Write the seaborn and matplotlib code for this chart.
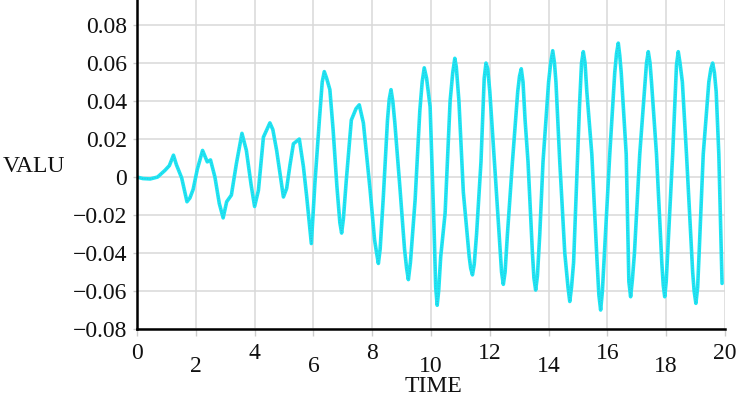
import numpy as np
import pandas as pd
import matplotlib
matplotlib.use("Agg")
import matplotlib.pyplot as plt
import seaborn as sns

# data
time = [0, 0.2, 0.45, 0.7, 0.95, 1.1, 1.24, 1.34, 1.52, 1.70, 1.80, 1.91, 2.05, 2.23, 2.39, 2.50,
        2.65, 2.80, 2.93, 3.05, 3.21, 3.38, 3.57, 3.72, 3.88, 4.00, 4.13, 4.30, 4.52, 4.62, 4.75,
        4.88, 4.98, 5.09, 5.20, 5.32, 5.52, 5.66, 5.77, 5.93, 6.05, 6.21, 6.30, 6.37, 6.45, 6.56,
        6.67, 6.80, 6.90, 6.96, 7.02, 7.12, 7.29, 7.45, 7.56, 7.70, 7.93, 8.08, 8.15, 8.21, 8.27,
        8.38, 8.52, 8.58, 8.64, 8.70, 8.77, 8.95, 9.10, 9.17, 9.23, 9.30, 9.46, 9.62, 9.70, 9.77,
        9.85, 9.97, 10.10, 10.16, 10.21, 10.26, 10.33, 10.48, 10.65, 10.74, 10.81, 10.86, 10.95,
        11.10, 11.30, 11.35, 11.41, 11.47, 11.55, 11.70, 11.81, 11.87, 11.93, 12.00, 12.20, 12.40,
        12.46, 12.52, 12.60, 12.77, 12.95, 13.01, 13.07, 13.13, 13.20, 13.30, 13.45, 13.50, 13.56,
        13.62, 13.70, 13.81, 14.00, 14.07, 14.14, 14.20, 14.25, 14.38, 14.55, 14.66, 14.72, 14.78,
        14.85, 15.05, 15.12, 15.18, 15.24, 15.30, 15.47, 15.65, 15.71, 15.77, 15.83, 15.90, 16.08,
        16.25, 16.31, 16.37, 16.42, 16.47, 16.64, 16.73, 16.79, 16.85, 16.92, 17.10, 17.28, 17.33,
        17.39, 17.45, 17.50, 17.67, 17.85, 17.90, 17.95, 18.00, 18.05, 18.22, 18.35, 18.41, 18.47,
        18.55, 18.69, 18.90, 18.95, 19.01, 19.07, 19.12, 19.26, 19.45, 19.52, 19.58, 19.64, 19.70,
        19.79, 19.90]
value = [0.0, -0.0008, -0.0010, 0.0, 0.0035, 0.0060, 0.0115, 0.0065, -0.0005, -0.0130, -0.0110,
         -0.0065, 0.0040, 0.0140, 0.0080, 0.0090, 0.0, -0.0140, -0.0215, -0.0130, -0.0095, 0.0070,
         0.0230, 0.0140, -0.0040, -0.0155, -0.0070, 0.0210, 0.0285, 0.0250, 0.0140, 0.0, -0.0105,
         -0.0060, 0.0060, 0.0175, 0.0200, 0.0055, -0.0100, -0.0350, -0.0035, 0.0315, 0.0500,
         0.0555, 0.0520, 0.0460, 0.0250, -0.0050, -0.0240, -0.0295, -0.0220, -0.0015, 0.0300,
         0.0360, 0.0380, 0.0285, -0.0070, -0.0330, -0.0400, -0.0455, -0.0380, -0.0100, 0.0300,
         0.0410, 0.0460, 0.0400, 0.0285, -0.0070, -0.0380, -0.0480, -0.0540, -0.0450, -0.0120,
         0.0350, 0.0500, 0.0575, 0.0520, 0.0370, -0.0250, -0.0580, -0.0675, -0.0600, -0.0420,
         -0.0190, 0.0400, 0.0550, 0.0625, 0.0580, 0.0400, -0.0080, -0.0420, -0.0480, -0.0515,
         -0.0460, -0.0300, 0.0080, 0.0520, 0.0600, 0.0570, 0.0450, -0.0020, -0.0500, -0.0565,
         -0.0500, -0.0300, 0.0080, 0.0450, 0.0530, 0.0570, 0.0500, 0.0300, 0.0080, -0.0400, -0.0530,
         -0.0595, -0.0520, -0.0300, 0.0080, 0.0500, 0.0600, 0.0665, 0.0600, 0.0500, 0.0080, -0.0400,
         -0.0580, -0.0655, -0.0580, -0.0450, 0.0370, 0.0600, 0.0660, 0.0600, 0.0450, 0.0120,
         -0.0450, -0.0620, -0.0700, -0.0600, -0.0400, 0.0120, 0.0550, 0.0650, 0.0705, 0.0640,
         0.0550, 0.0120, -0.0550, -0.0630, -0.0540, -0.0400, 0.0120, 0.0500, 0.0600, 0.0660,
         0.0600, 0.0500, 0.0120, -0.0450, -0.0570, -0.0630, -0.0550, -0.0400, 0.0120, 0.0590,
         0.0660, 0.0600, 0.0500, 0.0120, -0.0500, -0.0600, -0.0665, -0.0580, -0.0400, 0.0120,
         0.0500, 0.0570, 0.0600, 0.0550, 0.0450, 0.0120, -0.0560]

x_major = [0, 4, 8, 12, 16, 20]
x_minor = [2, 6, 10, 14, 18]
y_ticks = [-0.08, -0.06, -0.04, -0.02, 0, 0.02, 0.04, 0.06, 0.08]
y_labels = ["\u22120.08", "\u22120.06", "\u22120.04", "\u22120.02", "0", "0.02", "0.04", "0.06", "0.08"]

df = pd.DataFrame({"TIME": time, "VALU": value})

sns.set_theme(style="whitegrid")
plt.rcParams["font.family"] = ["Liberation Serif", "DejaVu Serif"]

fig = plt.figure(figsize=(7.54, 3.96), dpi=100)
ax = fig.add_axes([137 / 754, 67 / 396, 588 / 754, 329 / 396])

sns.lineplot(data=df, x="TIME", y="VALU", ax=ax, color="#1ee6f3", linewidth=2.6)
ax.plot(time, value, color="#33b4d6", linewidth=0.7, linestyle=":", alpha=0.8)

ax.set_xlim(0, 20)
ax.set_ylim(-0.08, 0.0932)

ax.set_xticks(x_major)
ax.set_xticklabels([str(t) for t in x_major])
ax.set_xticks(x_minor, minor=True)
ax.set_xticklabels([str(t) for t in x_minor], minor=True)
ax.set_yticks(y_ticks)
ax.set_yticklabels(y_labels)

ax.grid(True, which="both", color="#d8d8d8", linewidth=1.1)
ax.tick_params(axis="x", which="both", direction="out", length=5, width=1, color="#cccccc",
               labelsize=17, labelcolor="#111111", bottom=True)
ax.tick_params(axis="x", which="major", pad=5)
ax.tick_params(axis="x", which="minor", pad=14.5)
ax.tick_params(axis="y", direction="out", length=3, width=1, color="#cccccc",
               labelsize=17, labelcolor="#111111", pad=4, left=True)

for side in ["top", "right"]:
    ax.spines[side].set_visible(False)
for side in ["left", "bottom"]:
    ax.spines[side].set_color("black")
    ax.spines[side].set_linewidth(1.8)

ax.set_xlabel("")
ax.set_ylabel("")
fig.text(3 / 754, 1 - 167 / 396, "VALU", fontsize=17, ha="left", va="center", color="#111111")
fig.text(433 / 754, 1 - 386 / 396, "TIME", fontsize=17, ha="center", va="center", color="#111111")

fig.savefig("out.png", dpi=100)
